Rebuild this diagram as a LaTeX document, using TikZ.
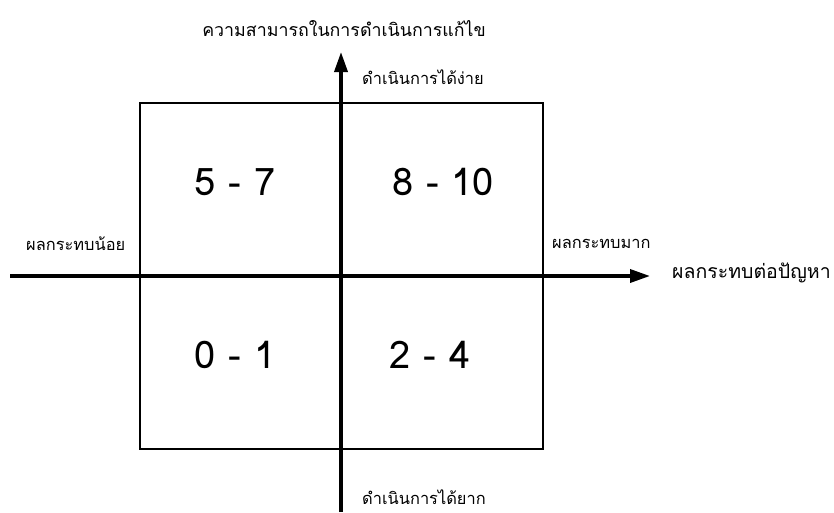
\documentclass[tikz,border=0pt]{standalone}
\usepackage{fontspec}
\setmainfont{Liberation Sans}
\newfontfamily\thaifont[Script=Thai]{Loma}
\usetikzlibrary{arrows.meta}
\begin{document}
\begin{tikzpicture}[x=1pt,y=-1pt,
  box/.style={draw=black,line width=1.5pt},
  axis/.style={line width=3.5pt,-{Triangle[length=20pt,width=13pt]}},
  plainaxis/.style={line width=3.5pt},
  num/.style={font=\thaifont\fontsize{38}{40}\selectfont, inner sep=0pt},
  lbl/.style={font=\thaifont\fontsize{16.4}{18}\selectfont, inner sep=0pt, anchor=west},
  biglbl/.style={font=\thaifont\fontsize{19.5}{21}\selectfont, inner sep=0pt, anchor=west},
  ttllbl/.style={font=\thaifont\fontsize{17.8}{20}\selectfont, inner sep=0pt}]
\useasboundingbox (0,0) rectangle (834,512);
\draw[box] (140,103) rectangle (543,449);
\coordinate (left) at (10,276);
\coordinate (right) at (650,276);
\coordinate (bottom) at (341,512);
\coordinate (top) at (341,52);
\draw[plainaxis] (left) -- (341,276);
\draw[axis] (341,276) -- (right);
\draw[axis] (bottom) -- (top);
\node[num] (q1) at (235,182) {5 - 7};
\node[num] (q2) at (443,182) {8 - 10};
\node[num] (q3) at (235,355) {0 - 1};
\node[num] (q4) at (430,355) {2 - 4};
\node[ttllbl] (ttl) at (344,29) {ความสามารถในการดำเนินการแก้ไข};
\node[lbl] (easy) at (362,77) {ดำเนินการได้ง่าย};
\node[lbl] (hard) at (362,497) {ดำเนินการได้ยาก};
\node[lbl] (low) at (26,244) {ผลกระทบน้อย};
\node[lbl] (high) at (552,244) {ผลกระทบมาก};
\node[biglbl] (impact) at (672,273) {ผลกระทบต่อปัญหา};
\end{tikzpicture}
\end{document}
